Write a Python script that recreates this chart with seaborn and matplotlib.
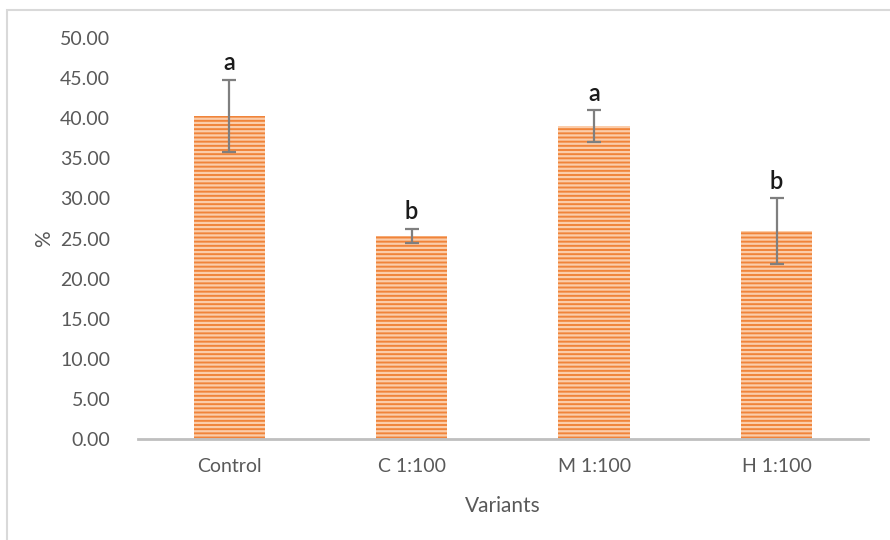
import matplotlib
matplotlib.use("Agg")
import matplotlib.pyplot as plt
from matplotlib.patches import Rectangle
import seaborn as sns
import pandas as pd

# Mean percentage per variant, with standard deviations and significance letters
variants = ["Control", "C 1:100", "M 1:100", "H 1:100"]
means = [40.3, 25.3, 39.0, 25.9]
errors = [4.5, 0.9, 2.0, 4.1]
letters = ["a", "b", "a", "b"]
y_ticks = [0, 5, 10, 15, 20, 25, 30, 35, 40, 45, 50]

sns.set_theme(style="white")
plt.rcParams["font.family"] = ["Lato", "DejaVu Sans"]

df = pd.DataFrame({"Variant": variants, "Percent": means})

fig = plt.figure(figsize=(8.9, 5.4), dpi=100)
ax = fig.add_axes([0.155, 0.187, 0.82, 0.7426])

bar_face = "#F0843A"
stripe = "#FBCDAA"
plt.rcParams["hatch.linewidth"] = 1.6
sns.barplot(data=df, x="Variant", y="Percent", color=bar_face, width=0.39,
            errorbar=None, saturation=1, ax=ax)
for patch in ax.patches:
    patch.set_hatch("----")
    patch.set_edgecolor(stripe)
    patch.set_linewidth(0)

xs = list(range(len(variants)))
ax.errorbar(xs, means, yerr=errors, fmt="none", ecolor="#7F7F7F",
            elinewidth=1.6, capsize=5, capthick=1.6)

for x, m, e, lab in zip(xs, means, errors, letters):
    ax.annotate(lab, (x, m + e), xytext=(0, 4), textcoords="offset points",
                ha="center", va="bottom", fontsize=17, color="#1a1a1a",
                fontweight="semibold")

ax.set_ylim(0, 50)
ax.set_xlim(-0.5, len(variants) - 0.5)
ax.set_yticks(y_ticks)
ax.set_yticklabels([f"{v:.2f}" for v in y_ticks])
ax.tick_params(axis="y", length=0, pad=20, labelsize=14, labelcolor="#595959")
ax.tick_params(axis="x", length=0, pad=14, labelsize=14, labelcolor="#595959")

for side in ["left", "right", "top"]:
    ax.spines[side].set_visible(False)
ax.spines["bottom"].set_color("#BFBFBF")
ax.spines["bottom"].set_linewidth(2)

ax.set_xlabel("Variants", fontsize=15, color="#595959", labelpad=15)
ax.set_ylabel("%", fontsize=15, color="#595959", labelpad=4)

# thin frame around the chart area
fig.add_artist(Rectangle((7 / 890, -0.1), 1.1, 0.1 + 1 - 10 / 540,
                         transform=fig.transFigure, fill=False,
                         edgecolor="#D9D9D9", linewidth=1.5))

fig.savefig("out.png", dpi=100)
